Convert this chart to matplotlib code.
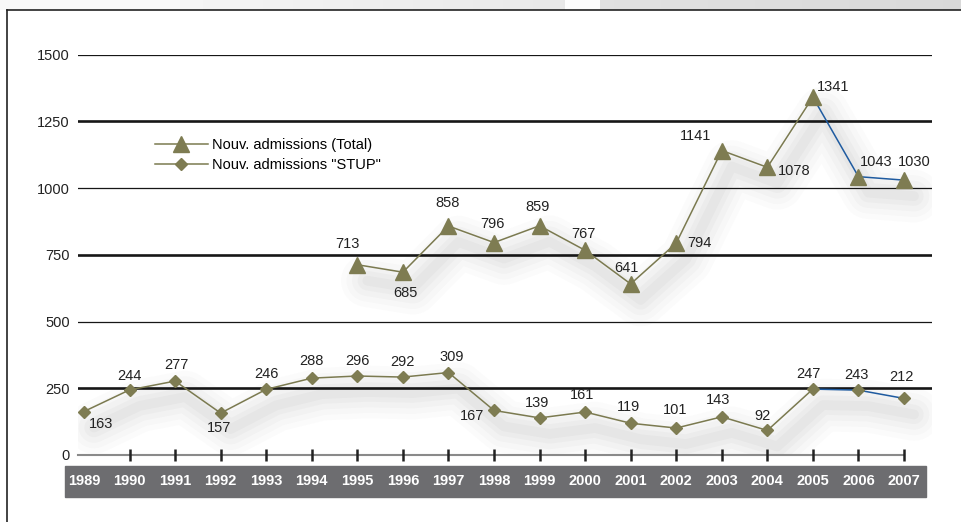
import numpy as np
import matplotlib
matplotlib.use("Agg")
import matplotlib.pyplot as plt
import matplotlib.transforms as mtransforms
from matplotlib.patches import Rectangle
from matplotlib.lines import Line2D

plt.rcParams['font.family'] = ['Liberation Sans', 'DejaVu Sans']

#%% data
years = list(range(1989, 2008))
years_total = list(range(1995, 2008))
total = [713, 685, 858, 796, 859, 767, 641, 794, 1141, 1078, 1341, 1043, 1030]
stup = [163, 244, 277, 157, 246, 288, 296, 292, 309, 167, 139, 161, 119, 101, 143, 92, 247, 243, 212]
y_ticks = [0, 250, 500, 750, 1000, 1250, 1500]

# label offsets in pixels (dx, dy)
off_total = [(-10, 21), (3, -21), (-1, 23), (-2, 19), (-2, 19), (-2, 16), (-4, 16),
             (23, 0), (-26, 15), (27, -4), (20, 10), (18, 15), (10, 18)]
off_stup = [(17, -12), (0, 14), (1, 16), (-2, -15), (0, 15), (0, 17), (0, 15), (0, 15),
            (3, 16), (-22, -6), (-2, 15), (-3, 17), (-2, 16), (-1, 18), (-4, 17),
            (-5, 14), (-4, 15), (-2, 15), (-3, 21)]

olive = '#7b7a50'
olive_mk = '#7e7c52'
blue = '#1f5ba0'

W, H = 962, 522
fig = plt.figure(figsize=(W/100, H/100), dpi=100)

# light grey strip above the frame
top = fig.add_axes([0, (H-10)/H, 1, 10/H])
grad = np.ones(W)*0.97
grad[180:565] = np.linspace(0.96, 0.91, 385)
grad[565:600] = 0.99
grad[600:] = np.linspace(0.88, 0.85, W-600)
top.imshow(grad[None, :], cmap='gray', vmin=0, vmax=1, aspect='auto')
top.axis('off')

# frame
fig.add_artist(Line2D([7/W, 7/W], [0, (H-10)/H], color='#222222', lw=1.2, transform=fig.transFigure))
fig.add_artist(Line2D([7/W, 1], [(H-10)/H, (H-10)/H], color='#222222', lw=1.2, transform=fig.transFigure))

# year band below the axis
fig.add_artist(Rectangle((65/W, (H-497)/H), 861/W, 31/H, color='#6d6d70',
                         transform=fig.transFigure, zorder=-1))

x0, x1 = 78, 932
ax = fig.add_axes([x0/W, (H-455)/H, (x1-x0)/W, 400.3/H])
px = 45.56
ax.set_xlim(1989 - 6/px, 2007 + 28/px)
ax.set_ylim(0, 1500)
for s in ax.spines.values():
    s.set_visible(False)
ax.set_xticks([])
ax.set_yticks(y_ticks)
ax.set_yticklabels([str(v) for v in y_ticks], fontsize=10.5, color='#222222')
ax.tick_params(axis='y', length=0, pad=6)
ax.patch.set_alpha(0)

# gridlines, thick ones every 500 starting at 250
for v in y_ticks[1:]:
    thick = v in (250, 750, 1250)
    ax.axhline(v, color='#161616', lw=1.9 if thick else 0.9, zorder=1)
ax.plot([1989 - 6/px, 2007], [0, 0], color='#8a8a8a', lw=1.5, zorder=1, clip_on=False)
ax.vlines(years[1:], -22, 22, color='#222222', lw=1.8, zorder=2, clip_on=False)

# blurred drop shadow under the curves
shadow_tr = mtransforms.offset_copy(ax.transData, fig=fig, x=10, y=-16, units='dots')
for xs, ys in [(years_total, total), (years, stup)]:
    for lw, a in [(38, 0.02), (30, 0.025), (22, 0.03), (14, 0.035), (7, 0.04)]:
        ax.plot(xs, ys, color='0.35', lw=lw, alpha=a, transform=shadow_tr,
                solid_capstyle='round', solid_joinstyle='round', zorder=0)

# lines: olive up to 2005, blue afterwards
ax.plot(years_total[:11], total[:11], color=olive, lw=1.1, zorder=3)
ax.plot(years_total[10:], total[10:], color=blue, lw=1.1, zorder=3)
ax.plot(years[:17], stup[:17], color=olive, lw=1.1, zorder=3)
ax.plot(years[16:], stup[16:], color=blue, lw=1.1, zorder=3)
ax.plot(years_total, total, ls='none', marker='^', ms=12, color=olive_mk, zorder=4)
ax.plot(years, stup, ls='none', marker='D', ms=6.5, color=olive_mk, zorder=4)

for x, v, (dx, dy) in zip(years_total, total, off_total):
    ax.annotate(str(v), (x, v), xytext=(dx, dy), textcoords='offset pixels',
                ha='center', va='center', fontsize=10.5, color='#222222', zorder=5)
for x, v, (dx, dy) in zip(years, stup, off_stup):
    ax.annotate(str(v), (x, v), xytext=(dx, dy), textcoords='offset pixels',
                ha='center', va='center', fontsize=10.5, color='#222222', zorder=5)

# legend
handles = [Line2D([], [], color=olive, lw=1.1, marker='^', ms=12, mfc=olive_mk, mec=olive_mk),
           Line2D([], [], color=olive, lw=1.1, marker='D', ms=6.5, mfc=olive_mk, mec=olive_mk)]
ax.legend(handles, ['Nouv. admissions (Total)', 'Nouv. admissions "STUP"'],
          loc='upper left', bbox_to_anchor=((155-x0)/(x1-x0), (455-138)/400.3),
          frameon=False, fontsize=10.5, handlelength=3.6, handletextpad=0.3,
          borderpad=0, borderaxespad=0, labelspacing=0.4)

band_tr = mtransforms.blended_transform_factory(ax.transData, fig.transFigure)
for yr in years:
    ax.text(yr, (H-481)/H, str(yr), transform=band_tr, ha='center', va='center',
            fontsize=10.5, fontweight='bold', color='white', clip_on=False, zorder=6)

fig.savefig('out.png', dpi=100)
